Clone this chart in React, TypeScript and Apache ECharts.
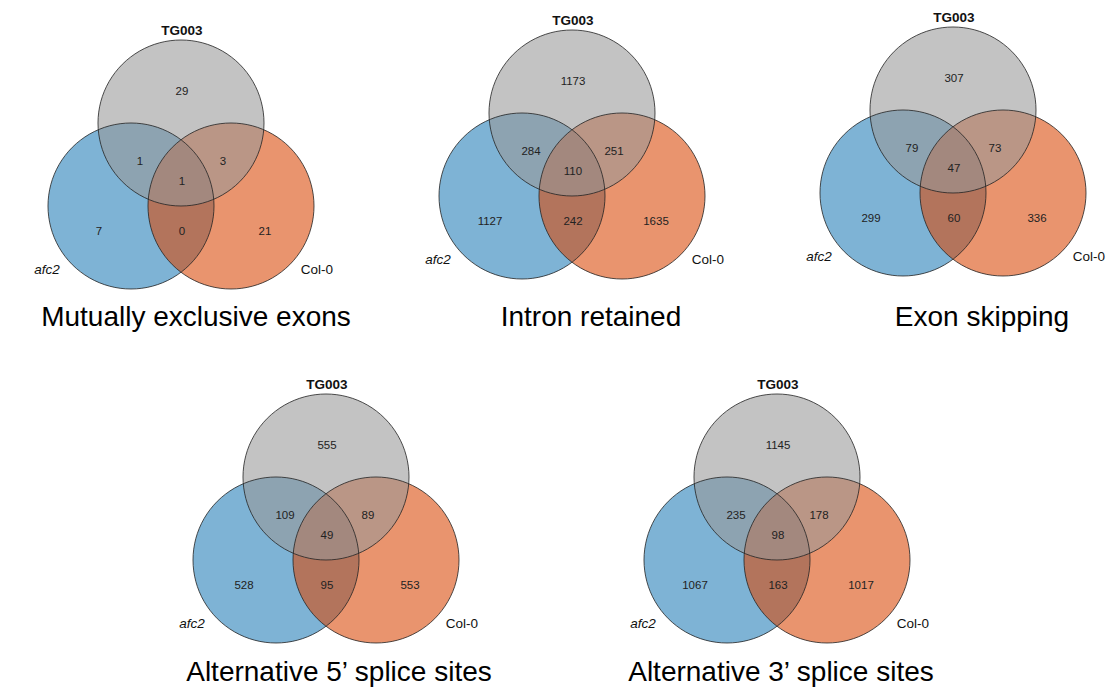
import React, { useEffect, useRef } from "react";
import * as echarts from "echarts";

// ---- data ----
const setNames = ["afc2", "TG003", "Col-0"];
const panelTitles = [
  "Mutually exclusive exons",
  "Intron retained",
  "Exon skipping",
  "Alternative 5’ splice sites",
  "Alternative 3’ splice sites",
];
// region order: TG003 only, afc2∩TG003, TG003∩Col-0, all three, afc2 only, afc2∩Col-0, Col-0 only
const mxeCounts = [29, 1, 3, 1, 7, 0, 21];
const irCounts = [1173, 284, 251, 110, 1127, 242, 1635];
const esCounts = [307, 79, 73, 47, 299, 60, 336];
const a5Counts = [555, 109, 89, 49, 528, 95, 553];
const a3Counts = [1145, 235, 178, 98, 1067, 163, 1017];
const panelCounts = [mxeCounts, irCounts, esCounts, a5Counts, a3Counts];

// ---- layout (positions / styles) ----
const panelCenters = [
  [181, 123],
  [572, 113],
  [953, 110],
  [326, 477],
  [777, 477],
];
const titlePos = [
  [196, 316],
  [591, 316],
  [982, 316],
  [339, 671],
  [781, 671],
];
const R = 83;
const DX = 50;
const DY = 83;
const regionOffsets = [
  [1, -32],
  [-41, 38],
  [42, 38],
  [1, 58],
  [-82, 108],
  [1, 108],
  [84, 108],
];
const FONT = "'Liberation Sans', Arial, Helvetica, sans-serif";
const fills = {
  afc2: "rgba(33,124,183,0.58)",
  col: "rgba(217,70,6,0.58)",
  tg: "rgba(152,152,152,0.58)",
};

function buildGraphics() {
  const els: any[] = [];
  panelCounts.forEach((counts, p) => {
    const [cx, cy] = panelCenters[p];
    const circles = [
      { x: cx - DX, y: cy + DY, fill: fills.afc2 },
      { x: cx + DX, y: cy + DY, fill: fills.col },
      { x: cx, y: cy, fill: fills.tg },
    ];
    circles.forEach((c) => {
      els.push({
        type: "circle",
        shape: { cx: c.x, cy: c.y, r: R },
        style: { fill: c.fill, stroke: "none" },
        z: 1,
      });
    });
    circles.forEach((c) => {
      els.push({
        type: "circle",
        shape: { cx: c.x, cy: c.y, r: R },
        style: { fill: "none", stroke: "rgba(35,35,35,0.8)", lineWidth: 1 },
        z: 2,
      });
    });
    counts.forEach((v, i) => {
      els.push({
        type: "text",
        z: 3,
        style: {
          text: String(v),
          x: cx + regionOffsets[i][0],
          y: cy + regionOffsets[i][1],
          fill: "#222",
          fontSize: 11.5,
          fontFamily: FONT,
          textAlign: "center",
          textVerticalAlign: "middle",
        },
      });
    });
    // set labels
    els.push({
      type: "text",
      z: 3,
      style: {
        text: setNames[1],
        x: cx + 1,
        y: cy - 93,
        fill: "#111",
        fontSize: 13.5,
        fontWeight: "bold",
        fontFamily: FONT,
        textAlign: "center",
        textVerticalAlign: "middle",
      },
    });
    els.push({
      type: "text",
      z: 3,
      style: {
        text: setNames[0],
        x: cx - 134,
        y: cy + 146,
        fill: "#111",
        fontSize: 13.5,
        fontStyle: "italic",
        fontFamily: FONT,
        textAlign: "center",
        textVerticalAlign: "middle",
      },
    });
    els.push({
      type: "text",
      z: 3,
      style: {
        text: setNames[2],
        x: cx + 136,
        y: cy + 146,
        fill: "#111",
        fontSize: 13.5,
        fontFamily: FONT,
        textAlign: "center",
        textVerticalAlign: "middle",
      },
    });
    els.push({
      type: "text",
      z: 3,
      style: {
        text: panelTitles[p],
        x: titlePos[p][0],
        y: titlePos[p][1],
        fill: "#000",
        fontSize: 28,
        fontFamily: FONT,
        textAlign: "center",
        textVerticalAlign: "middle",
      },
    });
  });
  return els;
}

export default function App() {
  const ref = useRef<HTMLDivElement>(null);
  useEffect(() => {
    if (!ref.current) return;
    const chart = echarts.init(ref.current, undefined, { renderer: "svg" });
    chart.setOption({
      animation: false,
      backgroundColor: "#ffffff",
      graphic: { elements: buildGraphics() },
    });
    return () => chart.dispose();
  }, []);
  return (
    <div
      ref={ref}
      style={{ position: "absolute", left: 0, top: 0, width: 1110, height: 691 }}
    />
  );
}
